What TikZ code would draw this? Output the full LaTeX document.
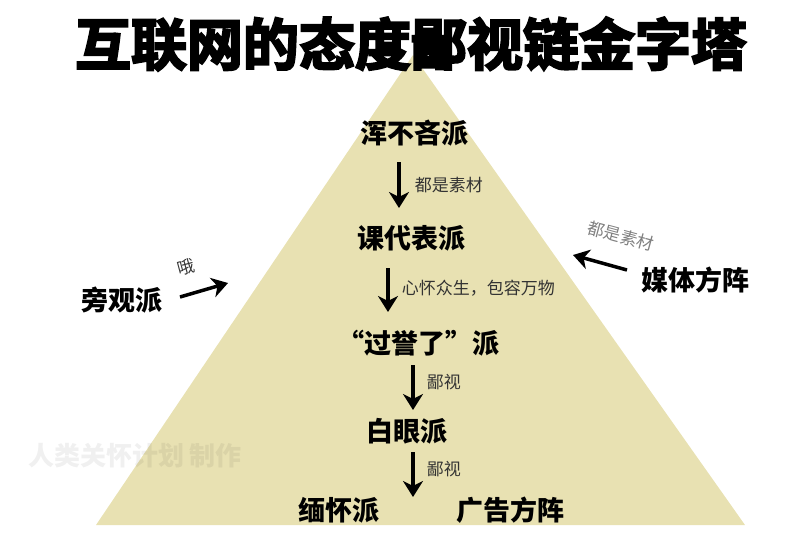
\documentclass[tikz,border=0pt]{standalone}
\usepackage{fontspec}
\usepackage{tikz}
\usetikzlibrary{arrows.meta}
\setmainfont{Noto Sans CJK SC}
\newfontfamily\heavyfont{Noto Sans CJK SC}[UprightFont=* Bold, FakeBold=4]
\definecolor{pyramid}{RGB}{232,225,178}
\tikzset{
  lvl/.style={font=\fontsize{27}{27}\selectfont\bfseries, inner sep=0pt, text height=23.8pt, text depth=3.2pt},
  note/.style={font=\fontsize{17}{17}\selectfont, text=black!80, inner sep=0pt},
  arr/.style={-{Stealth[length=16pt,width=20pt,inset=5pt]}, line width=3.5pt, black},
}

\begin{document}
\begin{tikzpicture}[x=1pt,y=-1pt]
  \useasboundingbox (0,0) rectangle (800,542);
  \fill[pyramid] (96,525) -- (413,55) -- (745,525) -- cycle;
  \node[text=black, text opacity=0.06] (wm) at (135,456) {\fontsize{26}{26}\selectfont\bfseries 人类关怀计划\ 制作};
  \node (title) at (411,44) {\heavyfont\fontsize{56}{56}\selectfont 互联网的态度鄙视链金字塔};

  \node[lvl] (hun) at (414,133) {浑不吝派};
  \node[lvl] (ke) at (411,238) {课代表派};
  \node[lvl] (guo) at (418,343) {“过誉了”派};
  \node[lvl] (bai) at (407,431) {白眼派};
  \node[lvl] (mian) at (339,510) {缅怀派};
  \node[lvl] (guang) at (510,510) {广告方阵};
  \node[lvl] (pang) at (122,300) {旁观派};
  \node[lvl] (mei) at (695,280) {媒体方阵};

  \coordinate (a1s) at (399,162); \coordinate (a1e) at (399,208);
  \coordinate (a2s) at (388,268); \coordinate (a2e) at (388,312);
  \coordinate (a3s) at (413,365); \coordinate (a3e) at (413,410);
  \coordinate (a4s) at (413,452); \coordinate (a4e) at (413,497);
  \coordinate (als) at (180,297); \coordinate (ale) at (228,283);
  \coordinate (ars) at (627,270); \coordinate (are) at (573,255);

  \draw[arr] (a1s) -- (a1e) node[note,midway,right=14pt] {都是素材};
  \draw[arr] (a2s) -- (a2e) node[note,pos=0.45,right=12pt] {心怀众生，包容万物};
  \draw[arr] (a3s) -- (a3e) node[note,pos=0.38,right=12pt] {鄙视};
  \draw[arr] (a4s) -- (a4e) node[note,pos=0.38,right=12pt] {鄙视};
  \draw[arr] (als) -- (ale);
  \draw[arr] (ars) -- (are);
  \node[note, rotate=15] (oh) at (186,267) {哦};
  \node[note, text=black!50, rotate=-15] (sucai) at (621,236) {都是素材};
\end{tikzpicture}
\end{document}
